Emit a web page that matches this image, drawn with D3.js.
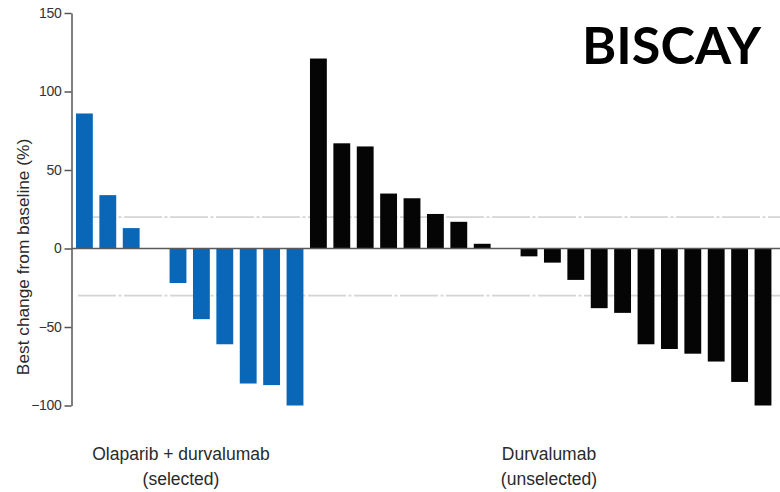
<!DOCTYPE html>
<html>
<head>
<meta charset="utf-8">
<script src="https://cdn.jsdelivr.net/npm/d3@7"></script>
<style>
  html, body { margin: 0; padding: 0; background: #fff; }
  svg { display: block; }
</style>
</head>
<body>
<svg id="chart" width="780" height="492"></svg>
<script>
// ---- data ----
const selectedValues = [86, 34, 13, 0, -22, -45, -61, -86, -87, -100];
const unselectedValues = [121, 67, 65, 35, 32, 22, 17, 3, 0, -5, -9, -20, -38, -41, -61, -64, -67, -72, -85, -100];
const groupLabels = [["Olaparib + durvalumab", "(selected)"], ["Durvalumab", "(unselected)"]];
const yTicks = [150, 100, 50, 0, -50, -100];
const thresholds = [20, -30];
const yTitle = "Best change from baseline (%)";
const title = "BISCAY";

const bars = [
  ...selectedValues.map((v, i) => ({ id: "s" + i, value: v, group: 0 })),
  ...unselectedValues.map((v, i) => ({ id: "u" + i, value: v, group: 1 }))
];
const colors = ["#0a67b8", "#050505"];

const svg = d3.select("#chart");

const x = d3.scaleBand()
  .domain(bars.map(d => d.id))
  .range([72.7, 774.7])
  .paddingInner(0.28)
  .paddingOuter(0.14);

const y = d3.scaleLinear().domain([-100, 150]).range([405.5, 13]);
const axisX = 71.5;

// threshold dashed lines
svg.append("g").selectAll("line")
  .data(thresholds)
  .join("line")
  .attr("x1", 78).attr("x2", 780)
  .attr("y1", d => y(d)).attr("y2", d => y(d))
  .attr("stroke", "#d4d4d4")
  .attr("stroke-width", 1.8)
  .attr("stroke-dasharray", "38,2.5,3,2.5");

// bars
svg.append("g").selectAll("rect")
  .data(bars)
  .join("rect")
  .attr("x", d => x(d.id))
  .attr("width", x.bandwidth())
  .attr("y", d => y(Math.max(0, d.value)))
  .attr("height", d => Math.abs(y(d.value) - y(0)))
  .attr("fill", d => colors[d.group]);

// zero line
svg.append("line")
  .attr("x1", axisX).attr("x2", 780)
  .attr("y1", y(0)).attr("y2", y(0))
  .attr("stroke", "#5a5a5a")
  .attr("stroke-width", 1.6);

// y axis
const yAxis = svg.append("g")
  .attr("transform", `translate(${axisX},0)`)
  .call(d3.axisLeft(y).tickValues(yTicks).tickSize(7).tickSizeOuter(0).tickPadding(3).tickFormat(d3.format("d")));
yAxis.select(".domain").attr("stroke", "#555").attr("stroke-width", 1.5);
yAxis.selectAll(".tick line").attr("stroke", "#555").attr("stroke-width", 1.5);
yAxis.selectAll(".tick text")
  .attr("fill", "#333")
  .style("font-family", "'Liberation Sans', Arial, sans-serif")
  .style("font-size", "14px")
  .style("letter-spacing", "-0.3px");

// y axis title
svg.append("text")
  .attr("transform", "translate(23,257) rotate(-90)")
  .attr("text-anchor", "middle")
  .attr("dominant-baseline", "central")
  .attr("fill", "#2a2a2a")
  .style("font-family", "'Liberation Sans', Arial, sans-serif")
  .style("font-size", "17.3px")
  .text(yTitle);

// group labels
const labelCenters = [181, 549];
const lg = svg.append("g")
  .style("font-family", "'Liberation Sans', Arial, sans-serif")
  .style("font-size", "17.5px")
  .attr("fill", "#2a2a2a")
  .attr("text-anchor", "middle");
groupLabels.forEach((lines, gi) => {
  lines.forEach((t, li) => {
    lg.append("text")
      .attr("x", labelCenters[gi])
      .attr("y", 460 + li * 25)
      .text(t);
  });
});

// title
svg.append("text")
  .attr("x", 582)
  .attr("y", 64)
  .attr("textLength", 179)
  .attr("lengthAdjust", "spacingAndGlyphs")
  .attr("fill", "#000")
  .style("font-family", "Lato, 'Open Sans', sans-serif")
  .style("font-weight", "bold")
  .style("font-size", "52px")
  .text(title);
</script>
</body>
</html>
